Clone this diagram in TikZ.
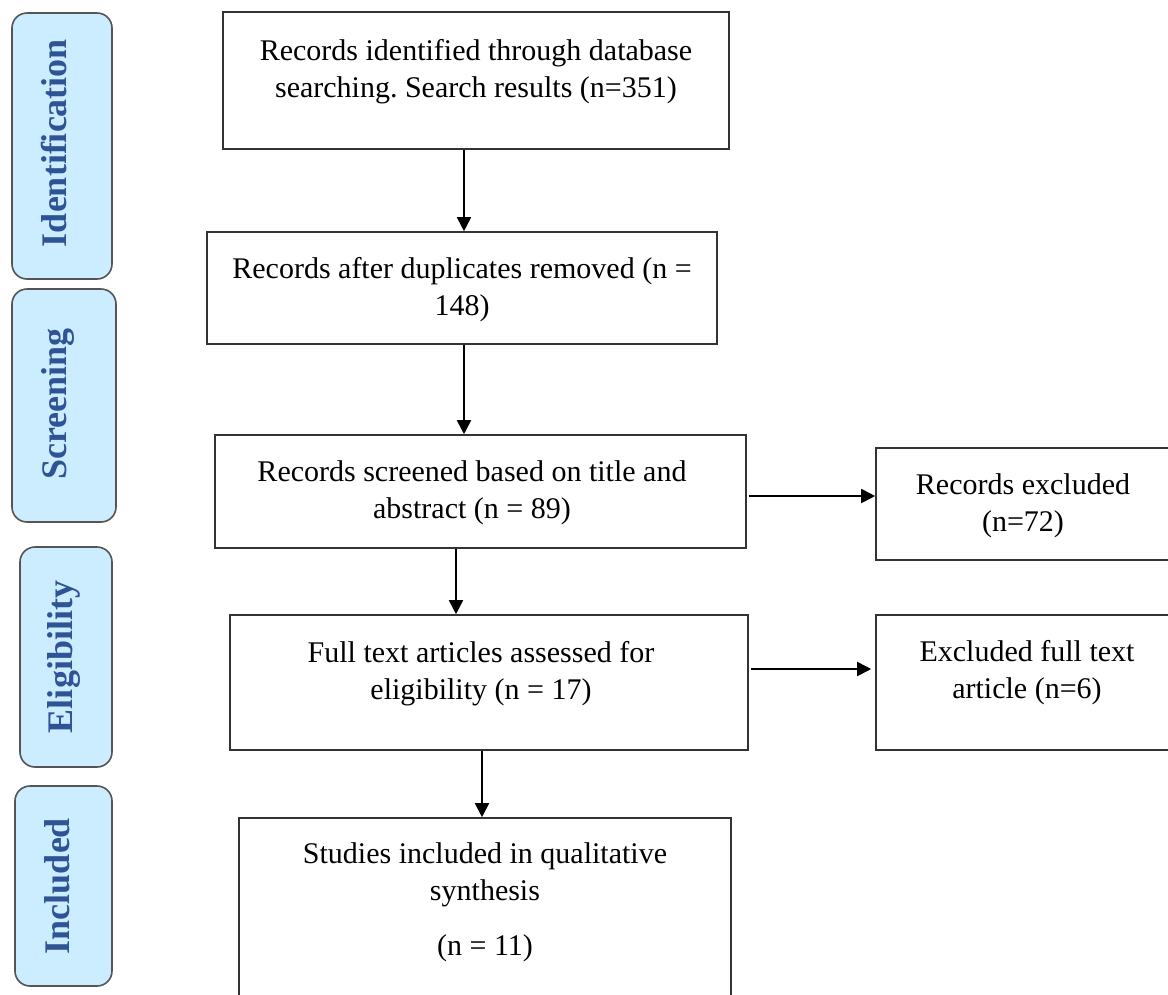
\documentclass[tikz,border=0pt]{standalone}
\usepackage{fontspec}
\setmainfont{Liberation Serif}
\usetikzlibrary{arrows.meta}
\definecolor{sidefill}{HTML}{CCECFF}
\definecolor{sideline}{HTML}{555555}
\definecolor{sidetext}{HTML}{2F5496}
\definecolor{boxline}{HTML}{333333}
\frenchspacing
\begin{document}
\begin{tikzpicture}[x=1pt,y=-1pt,
  sidebox/.style={draw=sideline,fill=sidefill,line width=1.6pt,rounded corners=15pt,inner sep=0pt},
  sidelabel/.style={rotate=90,text=sidetext,font=\fontsize{36}{40}\selectfont\bfseries,inner sep=0pt},
  flowbox/.style={draw=boxline,line width=1.6pt,inner sep=0pt},
  flowtext/.style={align=center,anchor=base,inner sep=0pt,font=\fontsize{30}{37}\selectfont},
  arr/.style={line width=1.8pt,-{Triangle[length=14pt,width=14pt]}}]
\useasboundingbox (0,0) rectangle (1168,994);
% side phase boxes
\node[sidebox,minimum width=100pt,minimum height=266pt] (sid) at (62,146) {};
\node[sidelabel] (sidt) at (54,143) {Identification};
\node[sidebox,minimum width=104pt,minimum height=233pt] (sscr) at (64,405.5) {};
\node[sidelabel] (sscrt) at (58,404) {Screening};
\node[sidebox,minimum width=92pt,minimum height=220pt] (selg) at (66,657) {};
\node[sidelabel] (selgt) at (64,657) {Eligibility};
\node[sidebox,minimum width=97pt,minimum height=200pt] (sinc) at (63.5,886) {};
\node[sidelabel] (sinct) at (57,886) {Included};
% flow boxes
\node[flowbox,minimum width=506pt,minimum height=137pt] (b1) at (476,80.5) {};
\node[flowtext] (t1) at (476,97) {Records identified through database\\searching. Search results (n=351)};
\node[flowbox,minimum width=510pt,minimum height=112pt] (b2) at (462,288) {};
\node[flowtext] (t2) at (462,315) {Records after duplicates removed (n =\\148)};
\node[flowbox,minimum width=531pt,minimum height=113pt] (b3) at (480.5,491.5) {};
\node[flowtext] (t3) at (472,518) {Records screened based on title and\\abstract (n = 89)};
\node[flowbox,minimum width=300pt,minimum height=112pt] (b4) at (1026,504) {};
\node[flowtext] (t4) at (1023,531) {Records excluded\\(n=72)};
\node[flowbox,minimum width=518pt,minimum height=135pt] (b5) at (489,682.5) {};
\node[flowtext] (t5) at (481,699) {Full text articles assessed for\\eligibility (n = 17)};
\node[flowbox,minimum width=300pt,minimum height=135pt] (b6) at (1026,682.5) {};
\node[flowtext] (t6) at (1027,698) {Excluded full text\\article (n=6)};
\node[flowbox,minimum width=492pt,minimum height=190pt] (b7) at (485,913) {};
\node[flowtext] (t7) at (485,900) {Studies included in qualitative\\synthesis};
\node[flowtext] (t7n) at (485,955) {(n = 11)};
% connectors
\draw[arr] (b1.south -| 464,0) -- (b2.north -| 464,0);
\draw[arr] (b2.south -| 464,0) -- (b3.north -| 464,0);
\draw[arr] (b3.south -| 456,0) -- (b5.north -| 456,0);
\draw[arr] (b5.south -| 482,0) -- (b7.north -| 482,0);
\draw[arr] ([xshift=2pt]b3.east |- 0,496) -- (b4.west |- 0,496);
\draw[arr] ([xshift=2pt]b5.east |- 0,669) -- ([xshift=-4pt]b6.west |- 0,669);
\end{tikzpicture}
\end{document}
